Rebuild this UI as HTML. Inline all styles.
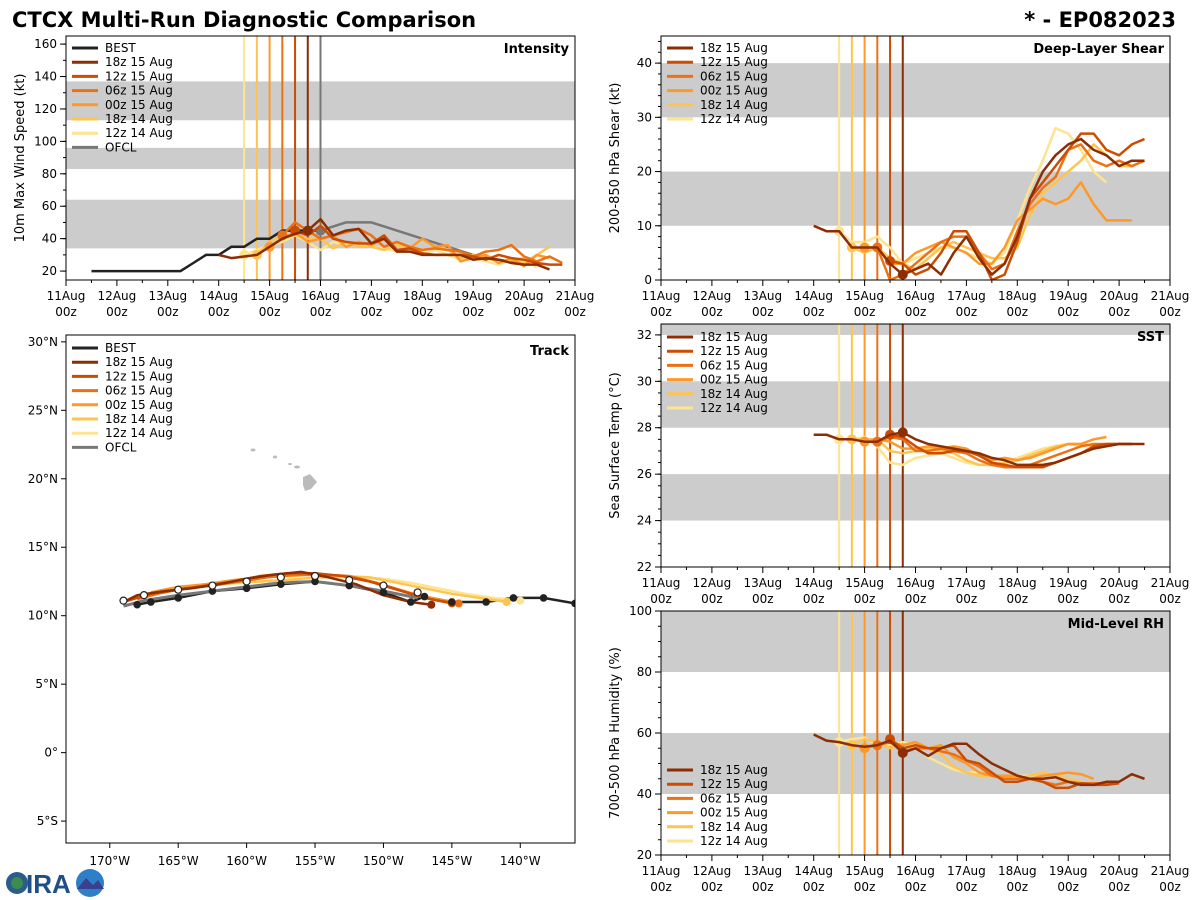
<!DOCTYPE html>
<html><head><meta charset="utf-8"><style>
html,body{margin:0;padding:0;background:#fff;width:1200px;height:900px;overflow:hidden}
svg{font-family:"DejaVu Sans","Liberation Sans",sans-serif}
</style></head><body>
<svg id="chart" width="1200" height="900" viewBox="0 0 1200 900" xmlns="http://www.w3.org/2000/svg">
<text x="12" y="27" font-size="21" font-weight="bold">CTCX Multi-Run Diagnostic Comparison</text>
<text x="1176" y="27" font-size="21" font-weight="bold" text-anchor="end">* - EP082023</text>
<g>
<circle cx="17" cy="883" r="11" fill="#2a5d8a"/><circle cx="17" cy="883" r="6" fill="#3e8a4f"/>
<text x="26" y="893" font-size="26" font-weight="bold" fill="#1f4f86" font-family="Liberation Sans,sans-serif">IRA</text>
<circle cx="90" cy="883" r="14" fill="#2d7fc7"/><path d="M77,889 L86,878 L93,885 L98,880 L104,889 Z" fill="#3a3f8f"/>
</g>
</svg>
<script>
const NS='http://www.w3.org/2000/svg';
const svg=document.getElementById('chart');
const runNames=['18z 15 Aug','12z 15 Aug','06z 15 Aug','00z 15 Aug','18z 14 Aug','12z 14 Aug'];
const runColors=['#8c2d04','#cc4c02','#ec7014','#fe9929','#fec44f','#fee391'];
const runInit=[15.75,15.5,15.25,15.0,14.75,14.5];
const dayTicks=[11,12,13,14,15,16,17,18,19,20,21];
// Intensity
const bestT=[11.5,11.75,12,12.25,12.5,12.75,13,13.25,13.5,13.75,14,14.25,14.5,14.75,15,15.25,15.5,15.75,16];
const bestV=[20,20,20,20,20,20,20,20,25,30,30,35,35,40,40,45,45,45,45];
const ofclT=[16,16.5,17,17.5,18,18.5,19,19.5,20];
const ofclV=[45,50,50,45,40,35,30,27,25];
const intStart=[14.0,15.5,15.25,15.0,14.75,14.5];
const intV=[
[30,28,29,30,35,40,43,45,52,42,45,46,37,40,32,32,30,30,30,30,27,28,27,25,24,24,21],
[45,42,48,40,38,37,37,42,33,34,31,30,30,30,29,27,30,28,27,25,24,24],
[42,50,45,40,42,44,46,42,35,38,35,33,34,33,32,29,32,33,36,29,26,29,25],
[35,40,44,38,40,42,35,38,36,40,32,34,40,35,36,26,28,30,25,28,23,30,28],
[30,38,42,42,40,40,34,38,35,35,33,36,35,33,35,33,28,30,28,26,27,25,30,35],
[30,33,36,38,42,38,33,38,36,37,35,34,32,33,30,33,30,27,28,26,24,27,28,22]];
// Shear
const shStart=[14.0,15.5,15.25,15.0,14.75,14.5];
const shV=[
[10,9,9,6,6,6,3,1,2,3,1,5,8,4,1,3,8,15,20,23,25,26,24,23,21,22,22],
[3.5,3,1,2,5,9,9,5,0,1,7,15,18,21,24,27,27,24,23,25,26],
[6,0,1,3,5,7,8,8,5,2,3,9,14,17,19,24,25,22,21,22,21,22],
[6,6,3,3,5,6,7,6,5,3,3,6,11,13,15,14,15,18,14,11,11,11],
[6,5,6,4,3,2,4,6,7,6,5,4,4,6,12,16,18,20,22,25,23,21,21],
[9,7,7,8,6,3,4,5,6,6,5,4,3,5,11,17,22,28,27,24,20,18]];
// SST
const sstStart=[14.0,15.5,15.25,15.0,14.75,14.5];
const sstV=[
[27.7,27.7,27.5,27.5,27.4,27.4,27.7,27.8,27.5,27.3,27.2,27.1,27.0,26.9,26.7,26.6,26.4,26.4,26.4,26.5,26.7,26.9,27.1,27.2,27.3,27.3,27.3],
[27.7,27.6,27.2,26.9,26.9,27.0,27.0,26.8,26.5,26.4,26.3,26.3,26.3,26.5,26.7,26.9,27.2,27.3,27.3,27.3],
[27.4,27.6,27.5,27.0,27.0,27.1,27.0,26.9,26.6,26.4,26.3,26.3,26.4,26.6,26.8,27.0,27.2,27.3,27.3,27.3,27.3],
[27.4,27.5,27.4,27.1,27.1,27.2,27.1,27.2,27.1,26.8,26.6,26.7,26.6,26.7,26.9,27.1,27.3,27.3,27.5,27.6],
[27.5,27.5,27.5,27.0,26.9,27.0,27.1,27.0,26.9,26.6,26.4,26.4,26.5,26.6,26.8,27.0,27.2,27.3,27.3,27.2],
[27.5,27.5,27.6,27.2,26.5,26.4,26.7,26.8,26.9,26.7,26.5,26.4,26.4,26.5,26.7,26.9,27.1,27.2,27.3,27.2]];
// RH
const rhStart=[14.0,15.5,15.25,15.0,14.75,14.5];
const rhV=[
[59.5,57.5,57,56,55.5,56,57.5,53.5,55,52.5,55,56.5,56.5,53,50,48,46,45,45,45.5,44,43,43,44,44,46.5,45],
[58,55,56,55,55,56,51,50,47,44,44,45,44,42,42,43.5,43,43,43.5],
[56,57,54,55,55,54,53,51,49,46,45,45,45,44,43,44,43.5,43.5,43.5,43.5],
[55,56,57,56,57,55,56,52,50,47,46,46,46,45,46,46.5,47,46.5,45],
[56,58,57,55,56,57,55,53,49,47,46,46,46,45,46,47,46,45,44],
[57,58,58.5,56,56,57,56,52,50,48,47,47,46,45,46,46,45,45]];
// Track
const bestLon=[-136,-138.3,-140.5,-142.5,-145,-147,-148,-150,-152.5,-155,-157.5,-160,-162.5,-165,-167,-168];
const bestLat=[10.9,11.3,11.3,11.0,11.0,11.4,11.0,11.7,12.2,12.5,12.3,12.0,11.8,11.3,11.0,10.8];
const ofclLon=[-147.5,-150,-152.5,-155,-157.5,-160,-162.5,-165,-167.5,-169];
const ofclLat=[11.3,11.8,12.2,12.5,12.4,12.1,11.8,11.5,11.1,10.7];
const trkLon=[
[-146.5,-148,-150,-152,-154,-156,-158,-160,-162,-164,-166,-168,-169],
[-145,-147,-149,-151,-153,-155,-157,-159,-161,-163,-165,-167,-169],
[-144.5,-146.5,-148.5,-150.5,-152.5,-154.5,-156.5,-158.5,-160.5,-162.5,-164.5,-166.5,-168],
[-145,-147,-149,-151,-153,-155,-157,-159,-161,-163,-165,-167],
[-141,-143,-145,-147,-149,-151,-153,-155,-157,-159,-161,-163,-165],
[-140,-142,-144,-146,-148,-150,-152,-154,-156,-158,-160,-162,-164]];
const trkLat=[
[10.8,11.0,11.5,12.3,12.8,13.2,13.0,12.7,12.3,12.0,11.8,11.5,11.0],
[10.9,11.3,11.9,12.5,12.9,13.1,13.1,12.9,12.5,12.2,11.9,11.6,11.0],
[10.9,11.2,11.8,12.4,12.9,13.0,13.0,12.8,12.5,12.2,12.0,11.6,11.2],
[11.0,11.4,11.9,12.5,12.9,13.0,12.9,12.8,12.6,12.3,12.1,11.7],
[11.0,11.3,11.6,12.0,12.4,12.8,12.9,12.8,12.6,12.5,12.4,12.3,12.0],
[11.1,11.3,11.6,12.0,12.4,12.7,12.8,12.8,12.7,12.6,12.4,12.3,12.1]];

function el(tag,attrs,parent){const e=document.createElementNS(NS,tag);for(const k in attrs)e.setAttribute(k,attrs[k]);(parent||svg).appendChild(e);return e;}
function txt(x,y,s,attrs,parent){const t=el('text',Object.assign({x:x,y:y},attrs||{}),parent);t.textContent=s;return t;}
function poly(pts){return pts.map(p=>p[0].toFixed(1)+','+p[1].toFixed(1)).join(' ');}

function timePanel(o){
  const g=el('g',{});
  
  
  const X=d=>o.x0+(d-11)*(o.x1-o.x0)/10;
  const Y=v=>o.y1-(v-o.vmin)*(o.y1-o.y0)/(o.vmax-o.vmin);
  const cid='clip-'+o.name;
  const cp=el('clipPath',{id:cid},g);el('rect',{x:o.x0,y:o.y0,width:o.x1-o.x0,height:o.y1-o.y0},cp);
  const pg=el('g',{'clip-path':'url(#'+cid+')'},g);
  o.bands.forEach(b=>{const r=el('rect',{x:o.x0,y:Y(Math.min(b[1],o.vmax)),width:o.x1-o.x0,height:Y(b[0])-Y(Math.min(b[1],o.vmax)),fill:'#cccccc'},pg);
    
    });
  // init lines
  if(o.ofclLine){const l=el('line',{x1:X(16),x2:X(16),y1:o.y0,y2:o.y1,stroke:'#777','stroke-width':2},pg);}
  runInit.forEach((t,i)=>{const l=el('line',{x1:X(t),x2:X(t),y1:o.y0,y2:o.y1,stroke:runColors[i],'stroke-width':2},pg);
    
    });
  if(o.best){
    const p=el('polyline',{points:poly(bestT.map((t,i)=>[X(t),Y(bestV[i])])),fill:'none',stroke:'#222','stroke-width':2.5},pg);
    
    
    const q=el('polyline',{points:poly(ofclT.map((t,i)=>[X(t),Y(ofclV[i])])),fill:'none',stroke:'#777','stroke-width':2.5},pg);
    
    
    el('circle',{cx:X(16),cy:Y(45),r:5,fill:'#777'},pg);
  }
  for(let i=5;i>=0;i--){
    const vals=o.vals[i];
    const pts=vals.map((v,k)=>[X(o.start[i]+k*0.25),Y(v)]);
    const p=el('polyline',{points:poly(pts),fill:'none',stroke:runColors[i],'stroke-width':2.5,'stroke-linejoin':'round'},pg);
    
    
    const k=Math.round((runInit[i]-o.start[i])/0.25);
    if(vals[k]!==undefined) el('circle',{cx:X(runInit[i]),cy:Y(vals[k]),r:5,fill:runColors[i]},pg);
  }
  el('rect',{x:o.x0,y:o.y0,width:o.x1-o.x0,height:o.y1-o.y0,fill:'none',stroke:'#000','stroke-width':1},g);
  // x ticks
  dayTicks.forEach(d=>{const x=X(d);el('line',{x1:x,x2:x,y1:o.y1,y2:o.y1+6,stroke:'#000'},g);
    const t=txt(x,o.y1+20,d+'Aug',{'font-size':12,'text-anchor':'middle'},g);
    txt(x,o.y1+36,'00z',{'font-size':12,'text-anchor':'middle'},g);});
  for(let d=11.5;d<21;d+=1){el('line',{x1:X(d),x2:X(d),y1:o.y1,y2:o.y1+3,stroke:'#000'},g);}
  o.ticks.forEach(v=>{const y=Y(v);el('line',{x1:o.x0-6,x2:o.x0,y1:y,y2:y,stroke:'#000'},g);
    txt(o.x0-9,y+4,o.fmt?o.fmt(v):String(v),{'font-size':12,'text-anchor':'end'},g);});
  for(let v=o.minorStart;v<=o.vmax;v+=o.minor){el('line',{x1:o.x0-3,x2:o.x0,y1:Y(v),y2:Y(v),stroke:'#000'},g);}
  const cy=(o.y0+o.y1)/2;
  txt(0,0,o.ylabel,{'font-size':13,'text-anchor':'middle',transform:'translate('+(o.x0-42)+','+cy+') rotate(-90)'},g);
  txt(o.x1-6,o.y0+17,o.title,{'font-size':13,'font-weight':'bold','text-anchor':'end'},g);
  legend(g,o.x0+6,o.legY,o.best);
}
function legend(g,x,y,withBest){
  const lg=el('g',{},g);
  
  
  const items=[];
  if(withBest)items.push(['BEST','#222']);
  runNames.forEach((n,i)=>items.push([n,runColors[i]]));
  if(withBest)items.push(['OFCL','#777']);
  items.forEach((it,i)=>{const yy=y+i*14.2;
    const l=el('line',{x1:x,x2:x+26,y1:yy,y2:yy,stroke:it[1],'stroke-width':3},lg);
    const t=txt(x+33,yy+4,it[0],{'font-size':12},lg);
    
    });
}
timePanel({name:'intensity-panel',x0:66,x1:575,y0:36,y1:280,vmin:14.5,vmax:165,bands:[[34,64],[83,96],[113,137]],
  ticks:[20,40,60,80,100,120,140,160],minor:10,minorStart:20,ylabel:'10m Max Wind Speed (kt)',title:'Intensity',
  best:true,ofclLine:true,start:intStart,vals:intV,legY:48});
timePanel({name:'shear-panel',x0:661,x1:1170,y0:36,y1:280,vmin:0,vmax:45,bands:[[10,20],[30,40]],
  ticks:[0,10,20,30,40],minor:2,minorStart:0,ylabel:'200-850 hPa Shear (kt)',title:'Deep-Layer Shear',
  best:false,start:shStart,vals:shV,legY:48});
timePanel({name:'sst-panel',x0:661,x1:1170,y0:324,y1:567,vmin:22,vmax:32.47,bands:[[24,26],[28,30],[32,33]],
  ticks:[22,24,26,28,30,32],minor:0.5,minorStart:22,ylabel:'Sea Surface Temp (°C)',title:'SST',
  best:false,start:sstStart,vals:sstV,legY:337});
timePanel({name:'rh-panel',x0:661,x1:1170,y0:611,y1:855,vmin:20,vmax:100,bands:[[40,60],[80,100]],
  ticks:[20,40,60,80,100],minor:5,minorStart:20,ylabel:'700-500 hPa Humidity (%)',title:'Mid-Level RH',
  best:false,start:rhStart,vals:rhV,legY:770});

// Track panel
(function(){
  const o={x0:66,x1:575,y0:335,y1:843,lon0:-173.2,lon1:-136,lat0:-6.6,lat1:30.5};
  const g=el('g',{});
  
  
  const X=l=>o.x0+(l-o.lon0)*(o.x1-o.x0)/(o.lon1-o.lon0);
  const Y=l=>o.y1-(l-o.lat0)*(o.y1-o.y0)/(o.lat1-o.lat0);
  const cp=el('clipPath',{id:'clip-track'},g);el('rect',{x:o.x0,y:o.y0,width:o.x1-o.x0,height:o.y1-o.y0},cp);
  const pg=el('g',{'clip-path':'url(#clip-track)'},g);
  // Hawaii
  const isl=el('g',{fill:'#bbbbbb'},pg);
  
  
  el('path',{d:'M303,477 L310,474 L317,482 L311,489 L305,491 L303,485 Z'},isl);
  el('ellipse',{cx:297,cy:467,rx:3,ry:1.5},isl);el('ellipse',{cx:290,cy:464,rx:2,ry:1},isl);
  el('ellipse',{cx:275,cy:457,rx:2,ry:1.5},isl);el('ellipse',{cx:253,cy:450,rx:2.5,ry:1.5},isl);
  const bl=el('polyline',{points:poly(bestLon.map((l,i)=>[X(l),Y(bestLat[i])])),fill:'none',stroke:'#222','stroke-width':2.5},pg);
  
  
  const ol=el('polyline',{points:poly(ofclLon.map((l,i)=>[X(l),Y(ofclLat[i])])),fill:'none',stroke:'#777','stroke-width':3},pg);
  
  
  for(let i=5;i>=0;i--){
    const p=el('polyline',{points:poly(trkLon[i].map((l,k)=>[X(l),Y(trkLat[i][k])])),fill:'none',stroke:runColors[i],'stroke-width':2.5},pg);
    
    
    el('circle',{cx:X(trkLon[i][0]),cy:Y(trkLat[i][0]),r:4,fill:runColors[i]},pg);
  }
  bestLon.forEach((l,i)=>{if(i%1===0)el('circle',{cx:X(l),cy:Y(bestLat[i]),r:3.8,fill:'#222'},pg);});
  ofclLon.forEach((l,i)=>{el('circle',{cx:X(l),cy:Y(ofclLat[i]+0.4),r:3.5,fill:'#fff',stroke:'#222','stroke-width':1.2},pg);});
  el('rect',{x:o.x0,y:o.y0,width:o.x1-o.x0,height:o.y1-o.y0,fill:'none',stroke:'#000'},g);
  [-170,-165,-160,-155,-150,-145,-140].forEach(l=>{const x=X(l);el('line',{x1:x,x2:x,y1:o.y1,y2:o.y1+5,stroke:'#000'},g);
    txt(x,o.y1+22,(-l)+'°W',{'font-size':12,'text-anchor':'middle'},g);});
  [30,25,20,15,10,5,0,-5].forEach(l=>{const y=Y(l);el('line',{x1:o.x0-5,x2:o.x0,y1:y,y2:y,stroke:'#000'},g);
    txt(o.x0-8,y+4,l>0?l+'°N':(l<0?(-l)+'°S':'0°'),{'font-size':12,'text-anchor':'end'},g);});
  txt(o.x1-6,o.y0+20,'Track',{'font-size':13,'font-weight':'bold','text-anchor':'end'},g);
  legend(g,o.x0+6,348,true);
})();
</script>
</body></html>
